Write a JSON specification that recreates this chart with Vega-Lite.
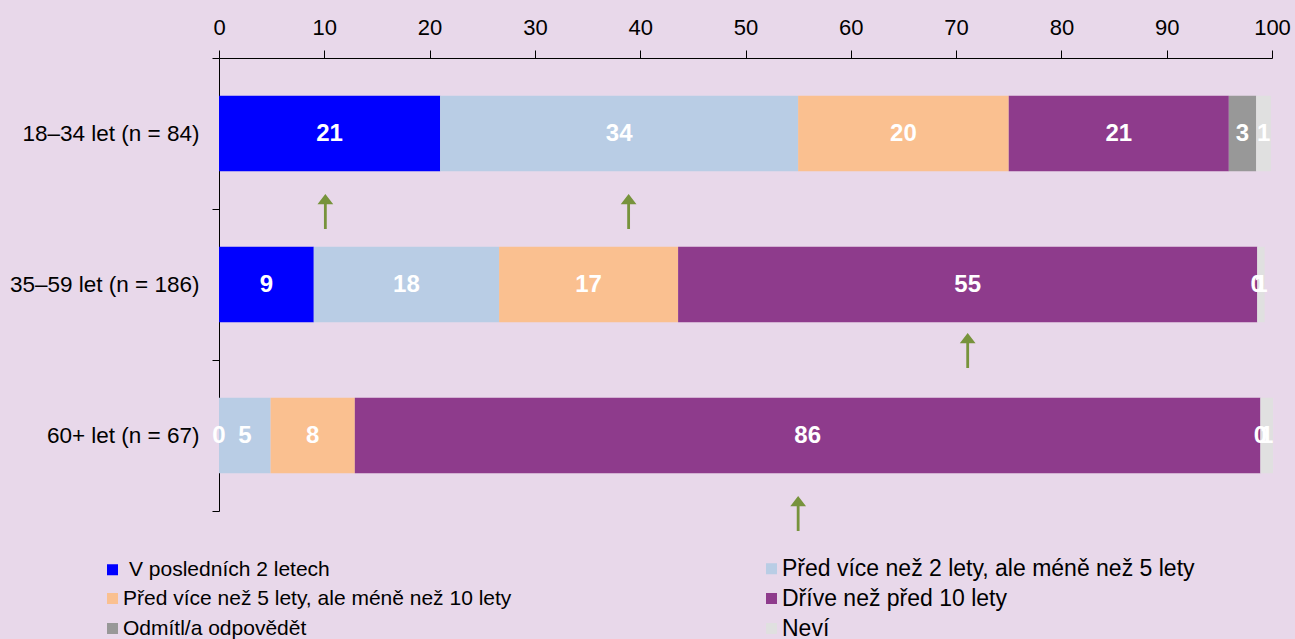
{
  "$schema": "https://vega.github.io/schema/vega-lite/v6.json",
  "width": 1053,
  "height": 453,
  "autosize": {"type": "none"},
  "padding": {"left": 219, "top": 58, "right": 23, "bottom": 128},
  "background": "#E8D8EA",
  "config": {
    "font": "Liberation Sans",
    "view": {"stroke": null}
  },
  "datasets": {
    "bars": [
      {"group": "18–34 let (n = 84)", "cat": "V posledních 2 letech", "value": 21.0},
      {"group": "18–34 let (n = 84)", "cat": "Před více než 2 lety, ale méně než 5 lety", "value": 34.0},
      {"group": "18–34 let (n = 84)", "cat": "Před více než 5 lety, ale méně než 10 lety", "value": 20.0},
      {"group": "18–34 let (n = 84)", "cat": "Dříve než před 10 lety", "value": 20.9},
      {"group": "18–34 let (n = 84)", "cat": "Odmítl/a odpovědět", "value": 2.6},
      {"group": "18–34 let (n = 84)", "cat": "Neví", "value": 1.4},
      {"group": "35–59 let (n = 186)", "cat": "V posledních 2 letech", "value": 9.0},
      {"group": "35–59 let (n = 186)", "cat": "Před více než 2 lety, ale méně než 5 lety", "value": 17.6},
      {"group": "35–59 let (n = 186)", "cat": "Před více než 5 lety, ale méně než 10 lety", "value": 17.0},
      {"group": "35–59 let (n = 186)", "cat": "Dříve než před 10 lety", "value": 55.0},
      {"group": "35–59 let (n = 186)", "cat": "Odmítl/a odpovědět", "value": 0.0},
      {"group": "35–59 let (n = 186)", "cat": "Neví", "value": 0.7},
      {"group": "60+ let (n = 67)", "cat": "V posledních 2 letech", "value": 0.0},
      {"group": "60+ let (n = 67)", "cat": "Před více než 2 lety, ale méně než 5 lety", "value": 4.9},
      {"group": "60+ let (n = 67)", "cat": "Před více než 5 lety, ale méně než 10 lety", "value": 8.0},
      {"group": "60+ let (n = 67)", "cat": "Dříve než před 10 lety", "value": 86.0},
      {"group": "60+ let (n = 67)", "cat": "Odmítl/a odpovědět", "value": 0.0},
      {"group": "60+ let (n = 67)", "cat": "Neví", "value": 1.2}
    ],
    "arrows": [
      {"group": "18–34 let (n = 84)", "value": 10.1},
      {"group": "18–34 let (n = 84)", "value": 38.9},
      {"group": "35–59 let (n = 186)", "value": 71.1},
      {"group": "60+ let (n = 67)", "value": 55.0}
    ]
  },
  "layer": [
    {
      "data": {"name": "bars"},
      "transform": [
        {"calculate": "indexof(['V posledních 2 letech', 'Před více než 2 lety, ale méně než 5 lety', 'Před více než 5 lety, ale méně než 10 lety', 'Dříve než před 10 lety', 'Odmítl/a odpovědět', 'Neví'], datum.cat)", "as": "ord"}
      ],
      "mark": {"type": "bar", "height": {"band": 0.5}},
      "encoding": {
        "y": {
          "field": "group", "type": "nominal", "title": null,
          "sort": ["18–34 let (n = 84)", "35–59 let (n = 186)", "60+ let (n = 67)"],
          "scale": {"paddingInner": 0, "paddingOuter": 0},
          "axis": {
            "tickBand": "extent", "tickSize": 7, "tickColor": "#000000",
            "domainColor": "#000000", "labelFontSize": 22.5, "labelColor": "#000000",
            "labelPadding": 13, "labelFont": "Liberation Sans", "labelLimit": 400
          }
        },
        "x": {
          "field": "value", "type": "quantitative", "stack": "zero", "title": null,
          "scale": {"domain": [0, 100], "nice": false},
          "axis": {
            "orient": "top", "values": [0, 10, 20, 30, 40, 50, 60, 70, 80, 90, 100],
            "grid": false, "tickSize": 8, "tickColor": "#000000", "domainColor": "#000000",
            "labelFontSize": 22, "labelColor": "#000000", "labelPadding": 11,
            "labelFlush": false, "labelOverlap": false, "labelFont": "Liberation Sans"
          }
        },
        "order": {"field": "ord", "type": "quantitative", "sort": "ascending"},
        "color": {
          "field": "cat", "type": "nominal", "title": null,
          "sort": ["V posledních 2 letech", "Před více než 2 lety, ale méně než 5 lety", "Před více než 5 lety, ale méně než 10 lety", "Dříve než před 10 lety", "Odmítl/a odpovědět", "Neví"],
          "scale": {
            "domain": ["V posledních 2 letech", "Před více než 2 lety, ale méně než 5 lety", "Před více než 5 lety, ale méně než 10 lety", "Dříve než před 10 lety", "Odmítl/a odpovědět", "Neví"],
            "range": ["#0000FF", "#B9CDE5", "#FAC090", "#8E3B8C", "#989898", "#E0E0E0"]
          },
          "legend": {
            "orient": "none", "legendX": -117, "legendY": 500,
            "columns": 2, "direction": "horizontal", "columnPadding": 249, "rowPadding": 6,
            "symbolType": "square", "symbolSize": 121, "symbolStrokeWidth": 0,
            "labelFontSize": 21, "labelColor": "#000000", "labelLimit": 700, "labelOffset": 0,
            "labelFont": "Liberation Sans", "padding": 0,
            "encode": {
              "labels": {"update": {
                "fontSize": {"signal": "datum.index % 2 == 1 ? 23 : 21"},
                "dx": {"signal": "datum.index == 0 ? 6 : 0"}
              }}
            }
          }
        }
      }
    },
    {
      "data": {"name": "bars"},
      "transform": [
        {"calculate": "indexof(['V posledních 2 letech', 'Před více než 2 lety, ale méně než 5 lety', 'Před více než 5 lety, ale méně než 10 lety', 'Dříve než před 10 lety', 'Odmítl/a odpovědět', 'Neví'], datum.cat)", "as": "ord"},
        {"stack": "value", "groupby": ["group"], "sort": [{"field": "ord", "order": "ascending"}], "as": ["x0", "x1"]},
        {"calculate": "(datum.x0 + datum.x1) / 2", "as": "mid"}
      ],
      "mark": {"type": "text", "color": "#FFFFFF", "fontSize": 24, "fontWeight": "bold", "baseline": "middle", "align": "center"},
      "encoding": {
        "y": {"field": "group", "type": "nominal", "sort": ["18–34 let (n = 84)", "35–59 let (n = 186)", "60+ let (n = 67)"]},
        "x": {"field": "mid", "type": "quantitative"},
        "text": {"field": "value", "type": "quantitative", "format": ".0f"}
      }
    },
    {
      "data": {"name": "arrows"},
      "transform": [{"filter": "datum.group != '35–59 let (n = 186)'"}],
      "mark": {"type": "point", "shape": "M0,-1L0.45,-0.42L0.08,-0.42L0.08,1L-0.08,1L-0.08,-0.42L-0.45,-0.42Z", "size": 1225, "filled": true, "color": "#77933C", "opacity": 1, "yOffset": 78},
      "encoding": {
        "y": {"field": "group", "type": "nominal", "sort": ["18–34 let (n = 84)", "35–59 let (n = 186)", "60+ let (n = 67)"]},
        "x": {"field": "value", "type": "quantitative"}
      }
    },
    {
      "data": {"name": "arrows"},
      "transform": [{"filter": "datum.group == '35–59 let (n = 186)'"}],
      "mark": {"type": "point", "shape": "M0,-1L0.45,-0.42L0.08,-0.42L0.08,1L-0.08,1L-0.08,-0.42L-0.45,-0.42Z", "size": 1225, "filled": true, "color": "#77933C", "opacity": 1, "yOffset": 66},
      "encoding": {
        "y": {"field": "group", "type": "nominal", "sort": ["18–34 let (n = 84)", "35–59 let (n = 186)", "60+ let (n = 67)"]},
        "x": {"field": "value", "type": "quantitative"}
      }
    }
  ]
}
